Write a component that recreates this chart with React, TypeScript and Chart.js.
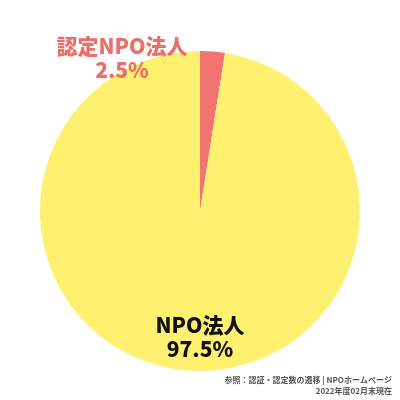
import React, { useEffect, useRef } from "react";
import { Chart, registerables } from "chart.js";

Chart.register(...registerables);

const categories = ["認定NPO法人", "NPO法人"];
const values = [2.5, 97.5];
const colors = ["#F27470", "#FFF06F"];
const labelColors = ["#E9706A", "#111111"];
const sourceLines = ["参照：認証・認定数の遷移 | NPOホームページ", "2022年度02月末現在"];

const FONT = "'Noto Sans CJK JP', 'Noto Sans', sans-serif";

const labelPlugin = {
  id: "sliceLabels",
  afterDraw(chart: any) {
    const ctx = chart.ctx;
    const meta = chart.getDatasetMeta(0);
    const total = values.reduce((a, b) => a + b, 0);
    ctx.save();
    ctx.textAlign = "center";
    ctx.textBaseline = "middle";
    meta.data.forEach((arc: any, i: number) => {
      const { x, y, outerRadius } = arc.getProps(["x", "y", "outerRadius"], true);
      const pct = ((values[i] / total) * 100).toFixed(1) + "%";
      let lx: number, ly: number, size: number;
      if (i === 0) {
        lx = x - outerRadius * 0.4875;
        ly = y - outerRadius * 0.957;
        size = 21;
      } else {
        lx = x;
        ly = y + outerRadius * 0.79;
        size = 21;
      }
      ctx.fillStyle = labelColors[i];
      ctx.font = `900 ${size}px ${FONT}`;
      ctx.fillText(categories[i], lx, ly - 12);
      ctx.fillText(pct, lx, ly + 12);
    });
    ctx.textAlign = "right";
    ctx.fillStyle = "#555555";
    ctx.font = `bold 8px ${FONT}`;
    ctx.fillText(sourceLines[0], chart.width - 8, chart.height - 20);
    ctx.fillText(sourceLines[1], chart.width - 8, chart.height - 9);
    ctx.restore();
  },
};

export default function App() {
  const ref = useRef<HTMLCanvasElement>(null);
  useEffect(() => {
    if (!ref.current) return;
    const chart = new Chart(ref.current, {
      type: "pie",
      data: {
        labels: categories,
        datasets: [
          {
            data: values,
            backgroundColor: colors,
            borderWidth: 0,
          },
        ],
      },
      options: {
        animation: false,
        responsive: false,
        maintainAspectRatio: false,
        layout: { padding: { top: 51, bottom: 29, left: 40, right: 40 } },
        plugins: {
          legend: { display: false },
          tooltip: { enabled: false },
        },
      },
      plugins: [labelPlugin],
    });
    return () => chart.destroy();
  }, []);
  return (
    <div style={{ position: "absolute", left: 0, top: 0, width: 400, height: 400, background: "#fff" }}>
      <canvas ref={ref} width={400} height={400} />
    </div>
  );
}
